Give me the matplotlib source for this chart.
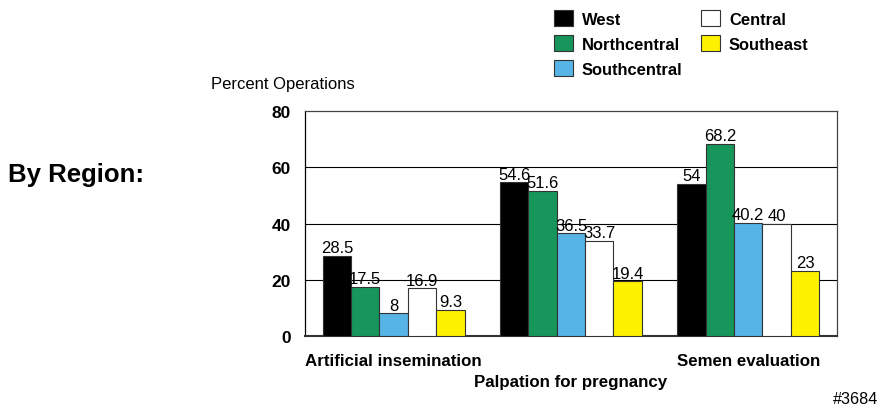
import numpy as np
import matplotlib.pyplot as plt

plt.rcParams['font.family'] = ['Liberation Sans', 'DejaVu Sans']

categories = ['Artificial insemination', 'Palpation for pregnancy', 'Semen evaluation']
regions = ['West', 'Northcentral', 'Southcentral', 'Central', 'Southeast']
west = [28.5, 54.6, 54]
northcentral = [17.5, 51.6, 68.2]
southcentral = [8, 36.5, 40.2]
central = [16.9, 33.7, 40]
southeast = [9.3, 19.4, 23]
labels = [['28.5', '54.6', '54'], ['17.5', '51.6', '68.2'], ['8', '36.5', '40.2'],
          ['16.9', '33.7', '40'], ['9.3', '19.4', '23']]
yticks = [0, 20, 40, 60, 80]

colors = ['#000000', '#16965a', '#56b4e6', '#ffffff', '#fff200']
series = [west, northcentral, southcentral, central, southeast]

fig = plt.figure(figsize=(8.8, 4.06), dpi=100)
ax = fig.add_axes([0.3466, 0.170, 0.6044, 0.554])

x = np.arange(len(categories))
w = 0.16
handles = []
for k, (vals, c) in enumerate(zip(series, colors)):
    pos = x + (k - 2) * w
    b = ax.bar(pos, vals, w, color=c, edgecolor='#333333', linewidth=0.8, zorder=3, label=regions[k])
    handles.append(b)
    for p, v, t in zip(pos, vals, labels[k]):
        ax.text(p, v + 0.3, t, ha='center', va='bottom', fontsize=12, zorder=4)

ax.set_xlim(-0.5, 2.5)
ax.set_ylim(0, 80)
ax.set_yticks(yticks)
ax.set_yticklabels([str(t) for t in yticks], fontweight='bold', fontsize=12.5)
ax.tick_params(axis='y', length=0, pad=10)
ax.tick_params(axis='x', length=0)
ax.set_xticks([])
for t in [20, 40, 60]:
    ax.axhline(t, color='black', linewidth=0.8, zorder=1)
for s in ['top', 'right']:
    ax.spines[s].set_color('#444444')
    ax.spines[s].set_linewidth(0.9)
ax.spines['left'].set_linewidth(0.9)
ax.spines['bottom'].set_linewidth(1.5)
ax.spines['bottom'].set_color('#333333')

# staggered category labels
for i, cat in enumerate(categories):
    yoff = -0.111 if i % 2 == 0 else -0.204
    ax.text(x[i], yoff, cat, transform=ax.get_xaxis_transform(), ha='center', va='center',
            fontweight='bold', fontsize=12.2)

fig.text(211 / 880, 1 - 84 / 406, 'Percent Operations', fontsize=12, va='center', ha='left')
fig.text(8 / 880, 1 - 175 / 406, 'By Region:', fontsize=18.5, fontweight='bold', va='center', ha='left')
fig.text(878 / 880, 1 - 400 / 406, '#3684', fontsize=11.6, va='center', ha='right')

leg = fig.legend(handles=handles, labels=regions, ncol=2, frameon=False,
                 loc='upper left', bbox_to_anchor=(544 / 880, 1 - 1 / 406),
                 prop={'weight': 'bold', 'size': 11.9}, handlelength=1.15, handleheight=1.15,
                 handletextpad=0.55, columnspacing=1.1, labelspacing=0.5,
                 borderaxespad=0.2)

fig.savefig('out.png', dpi=100)
